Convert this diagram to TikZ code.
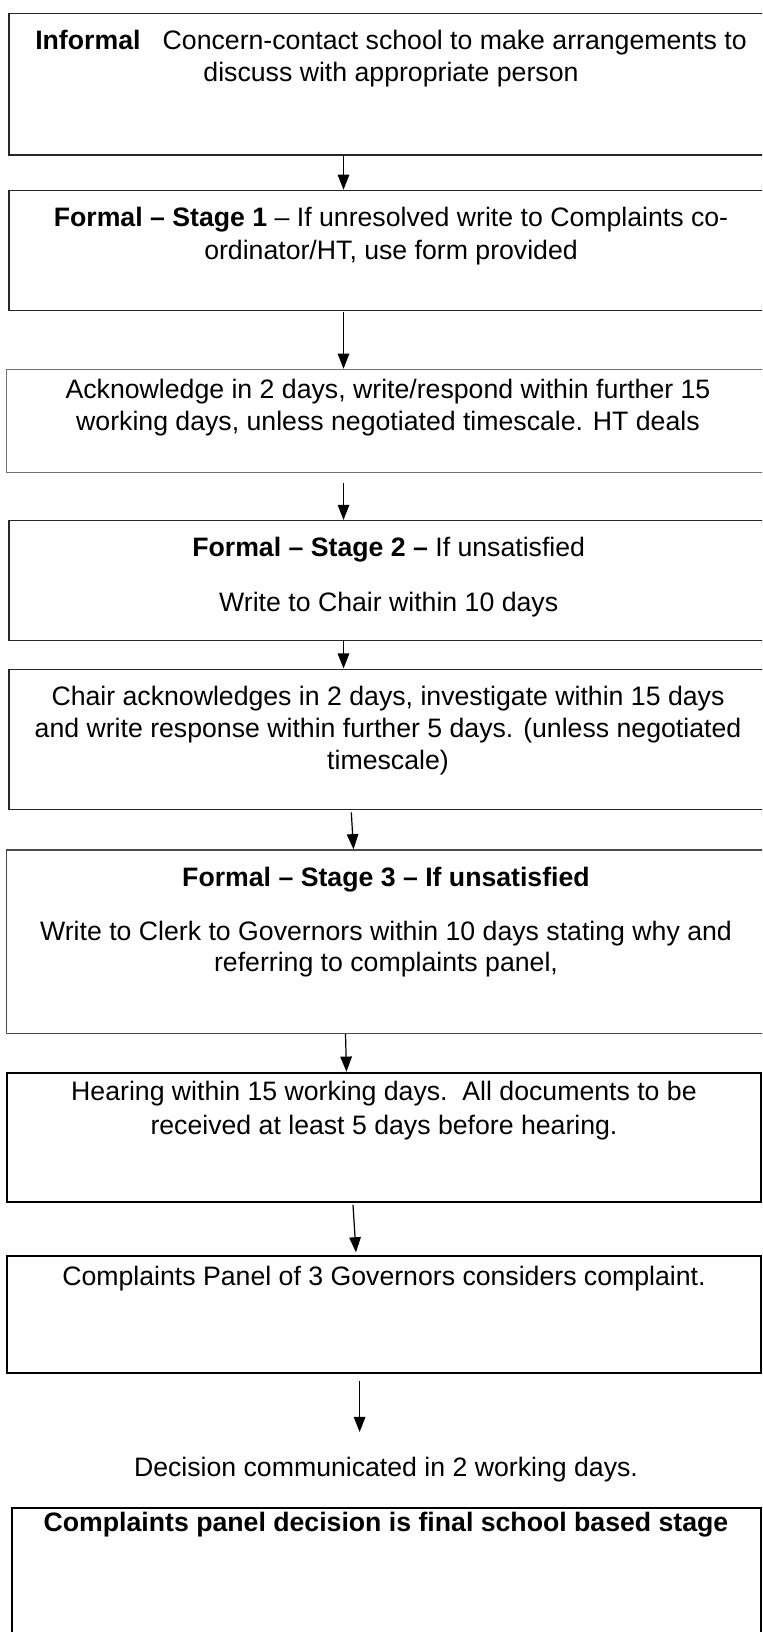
\documentclass[tikz,border=0pt]{standalone}
\usepackage{fontspec}
\setmainfont{Liberation Sans}
\usetikzlibrary{fit,arrows.meta}
\tikzset{
  box/.style={draw=black!85, line width=0.7pt, inner sep=0pt, fill=none},
  thinbox/.style={draw=black!55, line width=0.5pt, inner sep=0pt},
  heavybox/.style={draw=black, line width=0.9pt, inner sep=0pt},
  txt/.style={anchor=base, inner sep=0pt, font=\fontsize{12}{14}\selectfont},
  arr/.style={line width=0.55pt, -{Triangle[length=6.8pt, width=5.2pt]}}
}
\begin{document}
\begin{tikzpicture}[x=0.45pt, y=-0.45pt]
\useasboundingbox (0,0) rectangle (762,1632);
\clip (0,0) rectangle (762,1632);
\fill[white] (0,0) rectangle (762,1632);

% boxes
\node[box, fit={(9,13.5) (773,155)}] (b1) {};
\node[box, fit={(9,190.5) (773,310.5)}] (b2) {};
\node[thinbox, fit={(6.7,369.3) (769,472.7)}] (b3) {};
\node[box, fit={(9,520.7) (768,640.5)}] (b4) {};
\node[box, fit={(9,669.3) (767,809.3)}] (b5) {};
\node[box, draw=black!70, fit={(6.7,850) (765,1033.3)}] (b6) {};
\node[heavybox, fit={(7.3,1072.7) (761,1201.7)}] (b7) {};
\node[heavybox, fit={(7.3,1256) (761,1373.3)}] (b8) {};
\node[heavybox, fit={(11.7,1508.3) (761,1660)}] (b9) {};

% texts
\node[txt] (t1a) at (391,49.3) {\textbf{Informal}\hspace{10pt}Concern-contact school to make arrangements to};
\node[txt] (t1b) at (391,81.7) {discuss with appropriate person};
\node[txt] (t2a) at (391,226.7) {\textbf{Formal – Stage 1} – If unresolved write to Complaints co-};
\node[txt] (t2b) at (391,259.3) {ordinator/HT, use form provided};
\node[txt] (t3a) at (388,398.3) {Acknowledge in 2 days, write/respond within further 15};
\node[txt] (t3b) at (388,430) {working days, unless negotiated timescale. HT deals};
\node[txt] (t4a) at (388.7,556.7) {\textbf{Formal – Stage 2 –} If unsatisfied};
\node[txt] (t4b) at (388.7,611.7) {Write to Chair within 10 days};
\node[txt] (t5a) at (388,705) {Chair acknowledges in 2 days, investigate within 15 days};
\node[txt] (t5b) at (388,737.7) {and write response within further 5 days. (unless negotiated};
\node[txt] (t5c) at (388,769.3) {timescale)};
\node[txt] (t6a) at (386,886) {\textbf{Formal – Stage 3 – If unsatisfied}};
\node[txt] (t6b) at (386,940) {Write to Clerk to Governors within 10 days stating why and};
\node[txt] (t6c) at (386,971.7) {referring to complaints panel,};
\node[txt] (t7a) at (384,1100.7) {Hearing within 15 working days.\ \ All documents to be};
\node[txt] (t7b) at (384,1134) {received at least 5 days before hearing.};
\node[txt] (t8a) at (384,1285) {Complaints Panel of 3 Governors considers complaint.};
\node[txt] (td) at (386,1476.7) {Decision communicated in 2 working days.};
\node[txt] (t9a) at (386,1531.7) {\textbf{Complaints panel decision is final school based stage}};

% connectors
\coordinate (a8end) at (359.6,1432);
\draw[arr] (b1.south -| 343.5,0) -- (b2.north -| 343.5,0);
\draw[arr] ([yshift=-0.5pt]b2.south -| 343.5,0) -- (b3.north -| 343.5,0);
\draw[arr] ([yshift=-4.5pt]b3.south -| 343.5,0) -- (b4.north -| 343.5,0);
\draw[arr] (b4.south -| 343.5,0) -- (b5.north -| 343.5,0);
\draw[arr] ([yshift=-1pt]b5.south -| 351.3,0) -- (b6.north -| 353.5,0);
\draw[arr] (b6.south -| 345.5,0) -- (b7.north -| 346.5,0);
\draw[arr] ([yshift=-1pt]b7.south -| 353,0) -- ([yshift=1.2pt]b8.north -| 356,0);
\draw[arr] ([yshift=-3pt]b8.south -| 359.6,0) -- (a8end);
\end{tikzpicture}
\end{document}
